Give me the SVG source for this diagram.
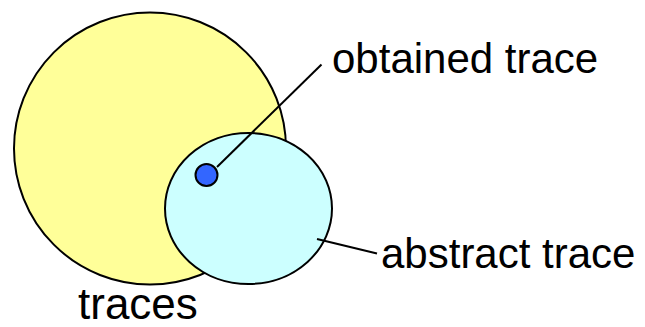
<svg xmlns="http://www.w3.org/2000/svg" width="645" height="327" viewBox="0 0 645 327">
<style>
.s{stroke:#000;stroke-width:2}
.t{font-family:"Liberation Sans",Arial,sans-serif;fill:#000}
</style>
<rect width="645" height="327" fill="#fff"/>
<g id="traces">
<circle class="s" cx="150" cy="148.5" r="136" fill="#ffff99"/>
<text class="t" x="78" y="319" font-size="44">traces</text>
</g>
<g id="abstract-trace">
<ellipse class="s" cx="248.5" cy="208.5" rx="83.5" ry="75.5" fill="#ccffff"/>
<text class="t" x="381" y="268" font-size="42">abstract trace</text>
</g>
<g id="connectors">
<line class="s" x1="217" y1="167" x2="321.5" y2="64.5"/>
<line class="s" x1="317" y1="239" x2="377" y2="253.5"/>
</g>
<g id="obtained-trace">
<circle class="s" cx="206.5" cy="175" r="11" fill="#3366ff"/>
<text class="t" x="332" y="73" font-size="42">obtained trace</text>
</g>
</svg>
